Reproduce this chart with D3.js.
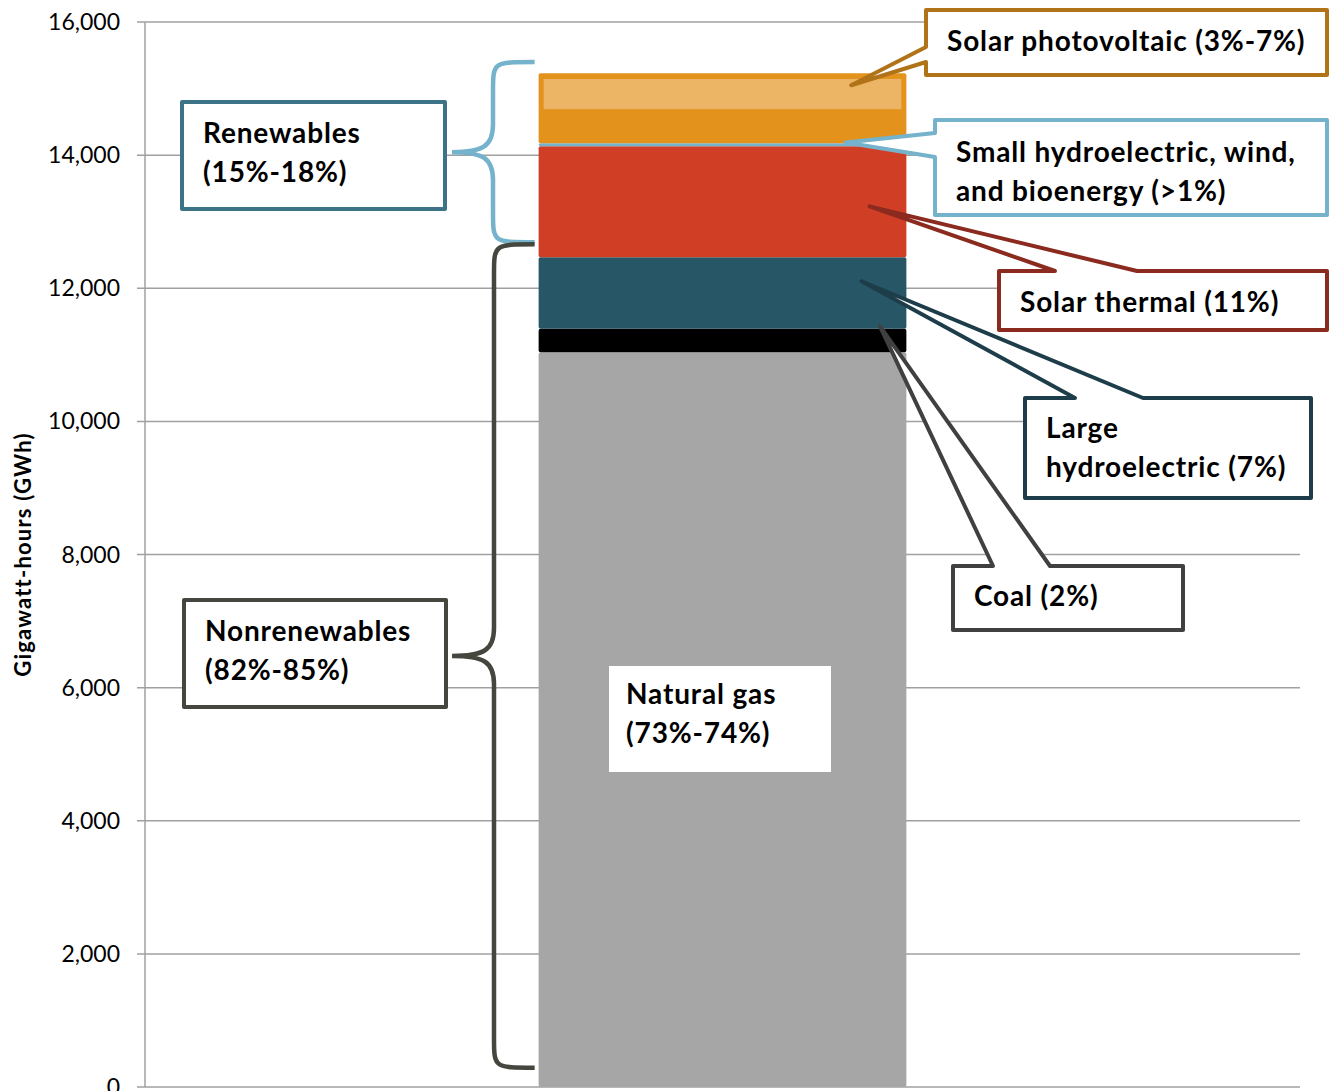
<!DOCTYPE html>
<html lang="en">
<head>
<meta charset="UTF-8" />
<title>generation mix</title>
<script src="https://cdn.jsdelivr.net/npm/d3@7"></script>
<style>
  body { margin: 0; background: #fff; }
  svg text { font-family: Lato, "Open Sans", sans-serif; fill: #000; }
  .lbl { font-size: 28px; font-weight: 700; letter-spacing: 0.85px; }
</style>
</head>
<body>
<svg id="svg"></svg>
<script>
// stacked bar, bottom to top (GWh)
const categories = ["Natural gas", "Coal", "Large hydroelectric", "Solar thermal",
  "Small hydroelectric, wind, and bioenergy", "Solar photovoltaic"];
const values = [11040, 350, 1075, 1670, 45, 1050];
const colors = ["#a6a6a6", "#000000", "#275767", "#d13e26", "#74b3cb", "#e3921c"];
// lighter band inside solar PV (range of the estimate)
const pvBand = [14690, 15145];
const yTicks = [0, 2000, 4000, 6000, 8000, 10000, 12000, 14000, 16000];

// braces: label lines, extent in GWh
const groupNames = [["Renewables", "(15%-18%)"], ["Nonrenewables", "(82%-85%)"]];
const groupLo = [12690, 290];
const groupHi = [15400, 12660];
const groupColors = ["#74b3cb", "#45463e"];
const groupBoxColors = ["#3c7387", "#45463e"];

// callouts: label lines, tip position (share of bar width, GWh)
const calloutText = [
  ["Solar photovoltaic (3%-7%)"],
  ["Small hydroelectric, wind,", "and bioenergy (>1%)"],
  ["Solar thermal (11%)"],
  ["Large", "hydroelectric (7%)"],
  ["Coal (2%)"]
];
const calloutTipX = [0.85, 0.835, 0.9, 0.878, 0.928];
const calloutTipY = [15050, 14190, 13230, 12105, 11430];
const calloutColors = ["#b07318", "#74b3cb", "#8b2a1e", "#1e3d4a", "#404040"];

const width = 1335, height = 1091;
const svg = d3.select("#svg").attr("width", width).attr("height", height);

const y = d3.scaleLinear().domain([0, 16000]).range([1087, 22]);
const x = d3.scaleBand().domain(["total"]).range([145, 1300]).padding(0.517);

// grid + axis
svg.append("g")
  .selectAll("line")
  .data(yTicks)
  .join("line")
  .attr("x1", 137).attr("x2", 1300)
  .attr("y1", d => y(d)).attr("y2", d => y(d))
  .attr("stroke", "#a0a0a0").attr("stroke-width", 1.5);

svg.append("line")
  .attr("x1", 145).attr("x2", 145)
  .attr("y1", y(16000)).attr("y2", y(0))
  .attr("stroke", "#a0a0a0").attr("stroke-width", 1.5);

svg.append("g")
  .selectAll("text")
  .data(yTicks)
  .join("text")
  .attr("x", 120).attr("y", d => y(d))
  .attr("dy", "0.35em")
  .attr("text-anchor", "end")
  .style("font-size", "23px")
  .text(d3.format(","));

svg.append("text")
  .attr("transform", `translate(31, ${y(8000)}) rotate(-90)`)
  .attr("text-anchor", "middle")
  .style("font-size", "22px").style("font-weight", 700).style("letter-spacing", "1.2px")
  .text("Gigawatt-hours (GWh)");

// stacked segments
let acc = 0;
const segs = values.map((v, i) => {
  const s = { name: categories[i], y0: acc, y1: acc + v, color: colors[i] };
  acc += v;
  return s;
});

const bx = x("total"), bw = x.bandwidth();

svg.append("g")
  .selectAll("rect")
  .data(segs)
  .join("rect")
  .attr("x", bx).attr("width", bw)
  .attr("y", d => y(d.y1))
  .attr("height", d => y(d.y0) - y(d.y1))
  .attr("rx", 2)
  .attr("fill", d => d.color);

svg.append("rect")
  .attr("x", bx + 5).attr("width", bw - 10)
  .attr("y", y(pvBand[1]))
  .attr("height", y(pvBand[0]) - y(pvBand[1]))
  .attr("fill", "#ecb565");

// natural gas label
svg.append("rect").attr("x", 609).attr("y", 666).attr("width", 222).attr("height", 106).attr("fill", "#fff");
const gasText = svg.append("text").attr("class", "lbl").attr("y", 704);
["Natural gas", "(73%-74%)"].forEach((t, i) => {
  gasText.append("tspan").attr("x", 626).attr("dy", i ? 39 : 0).text(t);
});

// braces
const braceX = [493, 494];
const braceBox = [
  { x: 182, y: 102, w: 263, h: 107 },
  { x: 184, y: 600, w: 262, h: 107 }
];

function bracePath(xv, xt, xe, yt, yb) {
  const ym = (yt + yb) / 2;
  return `M${xe},${yt} C${xv},${yt} ${xv},${yt} ${xv},${yt + 30}` +
    ` L${xv},${ym - 28} C${xv},${ym - 6} ${xv - 10},${ym} ${xt},${ym}` +
    ` C${xv - 10},${ym} ${xv},${ym + 6} ${xv},${ym + 28}` +
    ` L${xv},${yb - 30} C${xv},${yb} ${xv},${yb} ${xe},${yb}`;
}

groupNames.forEach((lines, i) => {
  svg.append("path")
    .attr("d", bracePath(braceX[i], 452, bx - 4, y(groupHi[i]), y(groupLo[i])))
    .attr("fill", "none")
    .attr("stroke", groupColors[i])
    .attr("stroke-width", 4.5);

  const b = braceBox[i];
  svg.append("rect")
    .attr("x", b.x).attr("y", b.y).attr("width", b.w).attr("height", b.h)
    .attr("fill", "#fff")
    .attr("stroke", groupBoxColors[i]).attr("stroke-width", 4)
    .attr("stroke-linejoin", "round");

  const t = svg.append("text").attr("class", "lbl").attr("y", b.y + 41);
  lines.forEach((l, j) => {
    t.append("tspan").attr("x", b.x + 21).attr("dy", j ? 39 : 0).text(l);
  });
});

// callout boxes with pointer wedges
const calloutBox = [
  { x: 926, y: 10, w: 401, h: 65, side: "left", a: 47, b: 62 },
  { x: 935, y: 120, w: 392, h: 95, side: "left", a: 133, b: 157 },
  { x: 999, y: 271, w: 328, h: 59, side: "top", a: 1055, b: 1137 },
  { x: 1025, y: 398, w: 286, h: 100, side: "top", a: 1075, b: 1143 },
  { x: 953, y: 566, w: 230, h: 64, side: "top", a: 993, b: 1050 }
];
const calloutBase = [51, 162, 312, 438, 606];

function calloutPath(b, tx, ty) {
  if (b.side === "left") {
    return `M${b.x},${b.y} L${b.x + b.w},${b.y} L${b.x + b.w},${b.y + b.h} L${b.x},${b.y + b.h}` +
      ` L${b.x},${b.b} L${tx},${ty} L${b.x},${b.a} Z`;
  }
  return `M${b.x},${b.y} L${b.a},${b.y} L${tx},${ty} L${b.b},${b.y} L${b.x + b.w},${b.y}` +
    ` L${b.x + b.w},${b.y + b.h} L${b.x},${b.y + b.h} Z`;
}

calloutText.forEach((lines, i) => {
  const b = calloutBox[i];
  const tx = bx + bw * calloutTipX[i];
  const ty = y(calloutTipY[i]);
  svg.append("path")
    .attr("d", calloutPath(b, tx, ty))
    .attr("fill", "#fff")
    .attr("stroke", calloutColors[i])
    .attr("stroke-width", 4)
    .attr("stroke-linejoin", "round");

  const t = svg.append("text").attr("class", "lbl").attr("y", calloutBase[i]);
  lines.forEach((l, j) => {
    t.append("tspan").attr("x", b.x + 21).attr("dy", j ? 39 : 0).text(l);
  });
});
</script>
</body>
</html>
